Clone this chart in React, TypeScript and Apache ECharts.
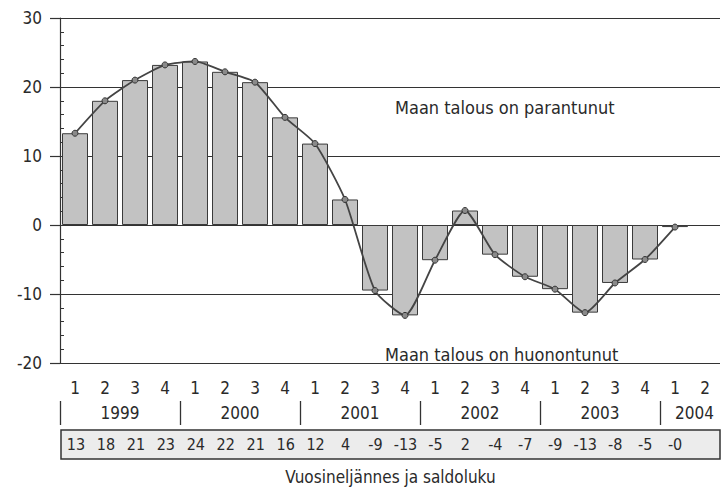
import React, { useEffect, useRef } from "react";
import * as echarts from "echarts";

const quarters = ["1", "2", "3", "4", "1", "2", "3", "4", "1", "2", "3", "4", "1", "2", "3", "4", "1", "2", "3", "4", "1", "2"];
const years = ["1999", "2000", "2001", "2002", "2003", "2004"];
const yearSeparators = [0, 4, 8, 12, 16, 20];
const yearLabelPositions = [2, 6, 10, 14, 18, 21.15];
const balance = [13.3, 18.0, 21.0, 23.2, 23.7, 22.2, 20.7, 15.6, 11.8, 3.7, -9.5, -13.1, -5.1, 2.1, -4.3, -7.5, -9.3, -12.7, -8.4, -5.0, -0.3, null];
const tableValues = ["13", "18", "21", "23", "24", "22", "21", "16", "12", "4", "-9", "-13", "-5", "2", "-4", "-7", "-9", "-13", "-8", "-5", "-0", ""];
const upperNote = "Maan talous on parantunut";
const lowerNote = "Maan talous on huonontunut";
const axisTitle = "Vuosineljännes ja saldoluku";

const FONT = '"Liberation Sans Narrow", "DejaVu Sans Condensed", "Roboto Condensed", "Arial Narrow", sans-serif';
const INK = "#2a2a2a";

export default function App() {
  const ref = useRef<HTMLDivElement>(null);
  useEffect(() => {
    if (!ref.current) return;
    const chart = echarts.init(ref.current, null, { renderer: "svg" });
    chart.setOption({
      animation: false,
      backgroundColor: "#ffffff",
      textStyle: { fontFamily: FONT, color: INK },
      grid: [
        { left: 60, right: 1, top: 18, height: 345 },
        { left: 61, right: 1, top: 430, height: 29, show: true, borderColor: "#333", borderWidth: 1.5, backgroundColor: "#ececec" },
      ],
      xAxis: [
        {
          type: "category",
          gridIndex: 0,
          data: quarters,
          position: "bottom",
          axisLine: { show: false, onZero: false },
          axisTick: { show: false },
          axisLabel: { fontFamily: FONT, fontSize: 17, color: INK, margin: 16, interval: 0 },
        },
        {
          type: "value",
          gridIndex: 0,
          min: 0,
          max: 22,
          position: "bottom",
          offset: 38,
          axisLine: { show: false, onZero: false },
          splitLine: { show: false },
          axisTick: { show: true, customValues: yearSeparators, length: 24, lineStyle: { color: "#333", width: 1.3 } },
          axisLabel: {
            customValues: yearLabelPositions,
            formatter: (v: number) => years[Math.floor(v / 4)],
            fontFamily: FONT,
            fontSize: 17,
            color: INK,
            margin: 3,
          },
        },
        {
          type: "category",
          gridIndex: 1,
          data: tableValues,
          position: "bottom",
          axisLine: { show: false, onZero: false },
          axisTick: { show: false },
          axisLabel: { inside: true, fontFamily: FONT, fontSize: 16, color: INK, margin: 7, interval: 0 },
          name: axisTitle,
          nameLocation: "middle",
          nameGap: 9,
          nameTextStyle: { fontFamily: FONT, fontSize: 17, color: INK, verticalAlign: "top" },
        },
      ],
      yAxis: [
        {
          type: "value",
          gridIndex: 0,
          min: -20,
          max: 30,
          interval: 10,
          axisLine: { show: false },
          axisTick: { show: true, length: 10, lineStyle: { color: "#333", width: 1.2 } },
          axisLabel: { fontFamily: FONT, fontSize: 17, color: INK, margin: 18 },
          splitLine: { show: true, lineStyle: { color: "#333", width: 1.2 } },
        },
        {
          type: "value",
          gridIndex: 0,
          min: -20,
          max: 30,
          interval: 2,
          position: "left",
          axisLine: { show: true, lineStyle: { color: "#333", width: 1.2 } },
          axisTick: { show: true, inside: true, length: 4, lineStyle: { color: "#333", width: 1 } },
          axisLabel: { show: false },
          splitLine: { show: false },
        },
        { type: "value", gridIndex: 1, show: false, min: 0, max: 1 },
      ],
      series: [
        {
          type: "bar",
          xAxisIndex: 0,
          yAxisIndex: 0,
          data: balance,
          barWidth: 26,
          itemStyle: { color: "#c2c2c2", borderColor: "#3a3a3a", borderWidth: 1 },
          z: 2,
        },
        {
          type: "line",
          xAxisIndex: 0,
          yAxisIndex: 0,
          data: balance,
          smooth: 0.2,
          symbol: "circle",
          symbolSize: 6,
          lineStyle: { color: "#444", width: 1.8 },
          itemStyle: { color: "#8a8a8a", borderColor: "#333", borderWidth: 1 },
          z: 3,
        },
      ],
      graphic: [
        { type: "text", left: 395, top: 98, style: { text: upperNote, font: `18px ${FONT}`, fill: INK } },
        { type: "text", left: 385, top: 345, style: { text: lowerNote, font: `18px ${FONT}`, fill: INK } },
      ],
    });
    return () => chart.dispose();
  }, []);
  return <div ref={ref} style={{ position: "absolute", left: 0, top: 0, width: 721, height: 490 }} />;
}
